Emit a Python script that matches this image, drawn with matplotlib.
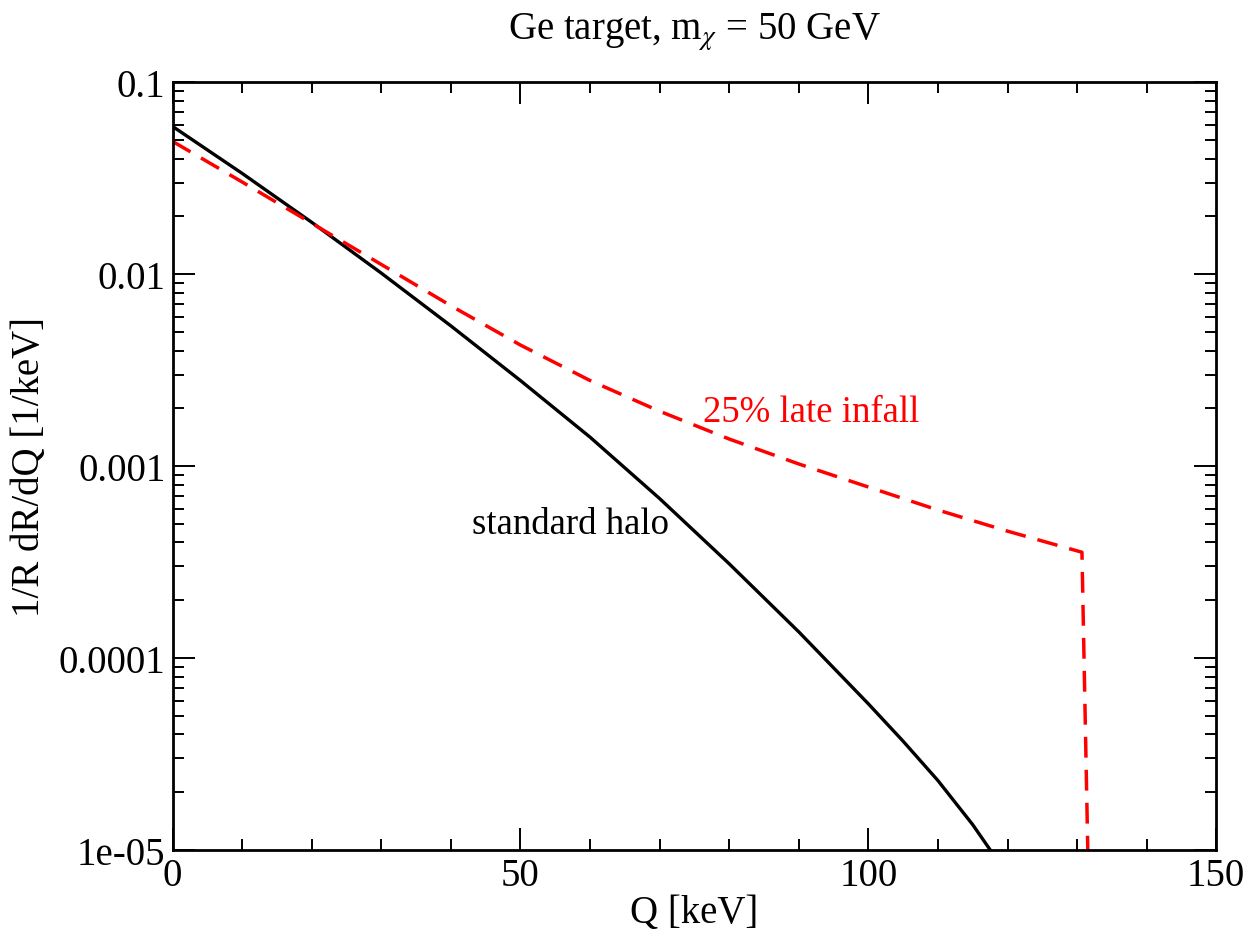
import matplotlib
matplotlib.use("Agg")
import matplotlib.pyplot as plt
from matplotlib.ticker import MultipleLocator, LogLocator, NullFormatter

plt.rcParams["font.family"] = ["Liberation Serif", "DejaVu Serif"]
plt.rcParams["mathtext.fontset"] = "stix"

# standard halo (black solid)
q_std = [0, 10, 20, 30, 40, 50, 60, 70, 80, 90, 100, 105, 110, 115, 117.5]
rate_std = [0.0590, 0.03357, 0.01866, 0.01014, 0.005383, 0.002793, 0.001416, 0.0006776,
            0.0003097, 0.0001368, 5.768e-5, 3.681e-5, 2.296e-5, 1.352e-5, 1.0e-5]

# 25% late infall (red dashed)
q_inf = [0, 10, 20, 30, 40, 50, 60, 70, 80, 90, 100, 110, 120, 130.7, 131.7]
rate_inf = [0.0493, 0.03027, 0.01845, 0.01125, 0.006855, 0.004276, 0.002793, 0.001932,
            0.001384, 0.001026, 0.000778, 0.0005902, 0.0004581, 0.0003556, 5e-6]

ytick_vals = [1e-5, 1e-4, 1e-3, 1e-2, 1e-1]
ytick_labels = ["1e-05", "0.0001", "0.001", "0.01", "0.1"]

fig = plt.figure(figsize=(12.5, 9.37), dpi=100)
ax = fig.add_axes([0.138, 0.092, 0.835, 0.819])

ax.plot(q_std, rate_std, color="black", lw=2.4)
ax.plot(q_inf, rate_inf, color="red", lw=2.5, linestyle=(0, (6, 3.5)))

ax.set_yscale("log")
ax.set_xlim(0, 150)
ax.set_ylim(1e-5, 0.1)

ax.xaxis.set_major_locator(MultipleLocator(50))
ax.xaxis.set_minor_locator(MultipleLocator(10))
ax.set_yticks(ytick_vals)
ax.set_yticklabels(ytick_labels)
ax.yaxis.set_minor_locator(LogLocator(base=10, subs=range(2, 10)))
ax.yaxis.set_minor_formatter(NullFormatter())

ax.tick_params(which="both", direction="in", top=True, right=True, width=1.4,
               labelsize=28, pad=5)
ax.tick_params(which="major", length=16)
ax.tick_params(which="minor", length=8)
for s in ax.spines.values():
    s.set_linewidth(2)

ax.set_xlabel("Q [keV]", fontsize=28, labelpad=0)
ax.set_ylabel("1/R dR/dQ [1/keV]", fontsize=28, labelpad=8)
ax.set_title(r"Ge target, m$_{\chi}$ = 50 GeV", fontsize=28, pad=31)

ax.text(76.2, 0.00191, "25% late infall", color="red", fontsize=26.5, va="center", ha="left")
ax.text(43.1, 5.0e-4, "standard halo", color="black", fontsize=26.5, va="center", ha="left")

fig.savefig("out.png", dpi=100)
